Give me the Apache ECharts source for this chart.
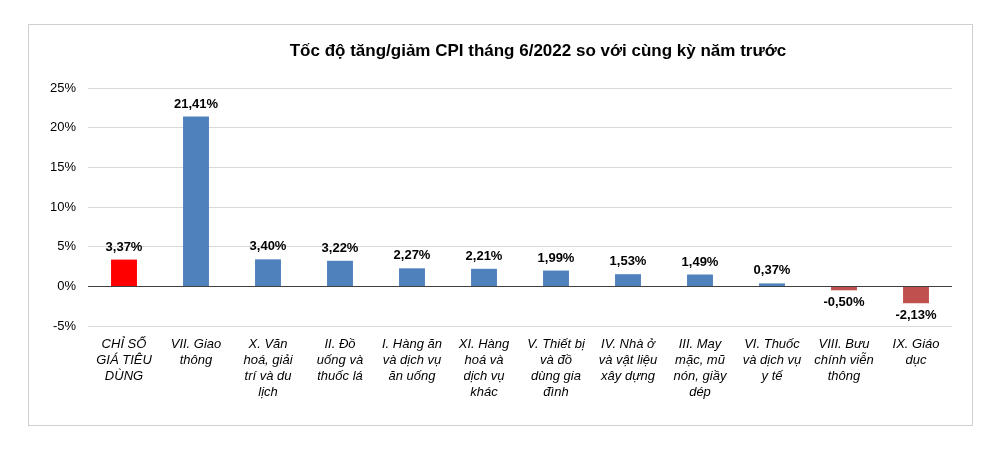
<!DOCTYPE html>
<html>
<head>
<meta charset="utf-8">
<script src="https://cdn.jsdelivr.net/npm/echarts@6/dist/echarts.min.js"></script>
<style>
  html, body { margin: 0; padding: 0; background: #fff; }
  #frame { position: absolute; left: 28px; top: 24px; width: 943px; height: 400px; border: 1px solid #d0d0d0; }
  #chart { position: absolute; left: 0; top: 0; width: 987px; height: 456px; }
</style>
</head>
<body>
<div id="frame"></div>
<div id="chart"></div>
<script>
// danh mục
const categories = [
    "CHỈ SỐ\nGIÁ TIÊU\nDÙNG", "VII. Giao\nthông", "X. Văn\nhoá, giải\ntrí và du\nlịch",
    "II. Đồ\nuống và\nthuốc lá", "I. Hàng ăn\nvà dịch vụ\năn uống", "XI. Hàng\nhoá và\ndịch vụ\nkhác",
    "V. Thiết bị\nvà đồ\ndùng gia\nđình", "IV. Nhà ở\nvà vật liệu\nxây dựng", "III. May\nmặc, mũ\nnón, giầy\ndép",
    "VI. Thuốc\nvà dịch vụ\ny tế", "VIII. Bưu\nchính viễn\nthông", "IX. Giáo\ndục"
];
// giá trị (%)
const values = [3.37, 21.41, 3.40, 3.22, 2.27, 2.21, 1.99, 1.53, 1.49, 0.37, -0.50, -2.13];
const yTicks = [-5, 0, 5, 10, 15, 20, 25];

let chart = echarts.init(document.getElementById('chart'));
let barData = values.map((v, i) => ({
    value: v,
    itemStyle: { color: i == 0 ? '#ff0000' : (v < 0 ? '#c0504d' : '#4f81bd') },
    label: { position: v < 0 ? 'bottom' : 'top' }
}));

let option = {
    textStyle: { fontFamily: 'Liberation Sans, Arial, sans-serif' },
    title: {
        text: 'Tốc độ tăng/giảm CPI tháng 6/2022 so với cùng kỳ năm trước',
        left: 533, top: 38, textAlign: 'center',
        textStyle: { fontSize: 17, fontWeight: 'bold', color: '#000' }
    },
    grid: { left: 88, right: 35, top: 88, bottom: 130, containLabel: false },
    xAxis: {
        type: 'category',
        data: categories,
        axisLine: { show: false, onZero: false },
        axisTick: { show: false },
        axisLabel: {
            interval: 0, fontSize: 13, fontStyle: 'italic', color: '#000',
            lineHeight: 16, margin: 10
        }
    },
    yAxis: {
        type: 'value', min: yTicks[0], max: yTicks[yTicks.length - 1], interval: 5,
        axisLine: { show: false }, axisTick: { show: false },
        axisLabel: { formatter: '{value}%', fontSize: 13, color: '#000', margin: 12 },
        splitLine: { lineStyle: { color: '#d9d9d9' } }
    },
    series: [{
        type: 'bar',
        data: barData,
        barWidth: '36%',
        label: {
            show: true, fontSize: 13, fontWeight: 'bold', color: '#000', distance: 6,
            formatter: p => p.value.toFixed(2).replace('.', ',') + '%'
        },
        markLine: {
            silent: true, symbol: 'none', label: { show: false },
            lineStyle: { color: '#404040', type: 'solid', width: 1 },
            data: [{ yAxis: 0 }]
        }
    }]
};
chart.setOption(option);
</script>
</body>
</html>
